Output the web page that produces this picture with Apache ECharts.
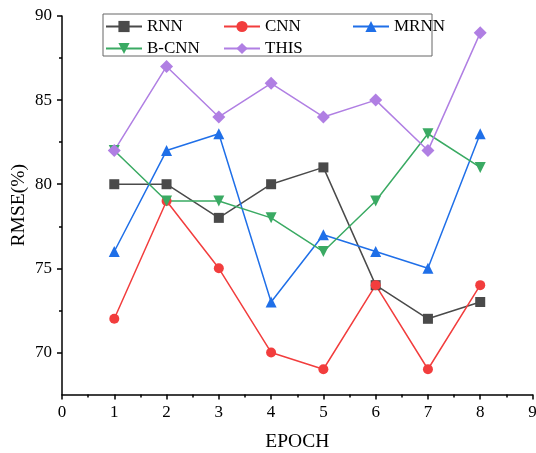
<!DOCTYPE html>
<html><head><meta charset="utf-8">
<script src="https://cdn.jsdelivr.net/npm/echarts@6/dist/echarts.min.js"></script>
<style>html,body{margin:0;padding:0;background:#fff}#c{width:536px;height:453px}</style>
</head><body><div id="c"></div>
<script>
const epochs = [1,2,3,4,5,6,7,8];
const rnn   = [80,80,78,80,81,74,72,73];
const cnn   = [72,79,75,70,69,74,69,74];
const mrnn  = [76,82,83,73,77,76,75,83];
const bcnn  = [82,79,79,78,76,79,83,81];
const thisM = [82,87,84,86,84,85,82,89];
const yMajorTicks = [70,75,80,85,90];
const yMinorTicks = [72.5,77.5,82.5,87.5];

const font = 'Liberation Serif';
function pts(arr){ return arr.map((v,i)=>[epochs[i], v]); }
function s(name, data, color, symbol, size, rot){
  return {name, type:'line', data:pts(data), symbol, symbolSize:size, symbolRotate:rot||0,
    lineStyle:{color, width:1.5}, itemStyle:{color}, z:2, animation:false};
}
const chart = echarts.init(document.getElementById('c'));
const legendCommon = {orient:'vertical', itemWidth:36, itemHeight:14, itemGap:5, padding:0,
  textStyle:{fontFamily:font, fontSize:17, color:'#000'}};
chart.setOption({
  backgroundColor:'#fff',
  animation:false,
  grid:{left:62, right:3.5, top:16, bottom:58.5, containLabel:false, outerBoundsMode:'none'},
  xAxis:{type:'value', min:0, max:9, interval:1,
    name:'EPOCH', nameLocation:'middle', nameGap:37, nameMoveOverlap:false,
    nameTextStyle:{fontFamily:font, fontSize:19.5, color:'#000'},
    axisLine:{lineStyle:{color:'#000', width:1.5}},
    axisTick:{length:5, lineStyle:{color:'#000', width:1.5}},
    minorTick:{show:true, splitNumber:2, length:3, lineStyle:{color:'#000', width:1.5}},
    axisLabel:{fontFamily:font, fontSize:17, color:'#000', margin:10},
    splitLine:{show:false}},
  yAxis:[{type:'value', min:67.5, max:90, interval:2.5,
    name:'RMSE(%)', nameLocation:'middle', nameGap:33, nameMoveOverlap:false,
    nameTextStyle:{fontFamily:font, fontSize:19.5, color:'#000'},
    axisLine:{lineStyle:{color:'#000', width:1.5}},
    axisTick:{length:5, customValues:yMajorTicks, lineStyle:{color:'#000', width:1.5}},
    axisLabel:{fontFamily:font, fontSize:17, color:'#000', margin:10, customValues:yMajorTicks},
    splitLine:{show:false}},
   {type:'value', min:67.5, max:90, interval:2.5, position:'left',
    axisLine:{show:false},
    axisTick:{length:3, customValues:yMinorTicks, lineStyle:{color:'#000', width:1.5}},
    axisLabel:{show:false}, splitLine:{show:false}}],
  legend:[
    Object.assign({data:['RNN','B-CNN'], left:105, top:18}, legendCommon),
    Object.assign({data:['CNN','THIS'], left:223, top:18}, legendCommon),
    Object.assign({data:['MRNN'], left:352, top:18}, legendCommon)
  ],
  graphic:[{type:'rect', shape:{x:103, y:14, width:329, height:42},
    style:{fill:'none', stroke:'#666', lineWidth:1}, z:10}],
  series:[
    s('RNN', rnn, '#4a4a4a', 'rect', 10),
    s('CNN', cnn, '#f23d3d', 'circle', 10),
    s('MRNN', mrnn, '#1f6fe8', 'triangle', 11),
    s('B-CNN', bcnn, '#3aaa63', 'triangle', 11, 180),
    s('THIS', thisM, '#b07fe3', 'diamond', 13)
  ]
});
</script></body></html>
